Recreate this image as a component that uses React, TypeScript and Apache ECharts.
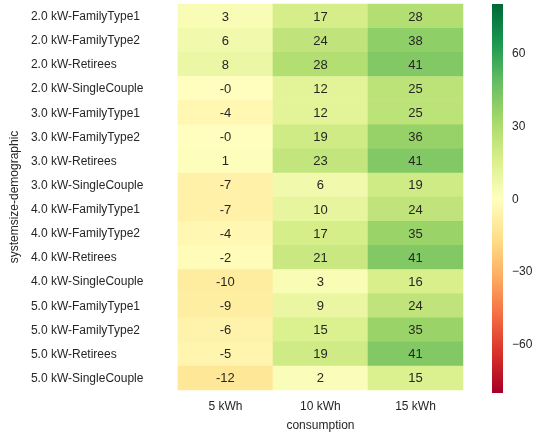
import React, { useEffect, useRef } from "react";
import * as echarts from "echarts";

const rowLabels = [
  "2.0 kW-FamilyType1",
  "2.0 kW-FamilyType2",
  "2.0 kW-Retirees",
  "2.0 kW-SingleCouple",
  "3.0 kW-FamilyType1",
  "3.0 kW-FamilyType2",
  "3.0 kW-Retirees",
  "3.0 kW-SingleCouple",
  "4.0 kW-FamilyType1",
  "4.0 kW-FamilyType2",
  "4.0 kW-Retirees",
  "4.0 kW-SingleCouple",
  "5.0 kW-FamilyType1",
  "5.0 kW-FamilyType2",
  "5.0 kW-Retirees",
  "5.0 kW-SingleCouple",
];
const colLabels = ["5 kWh", "10 kWh", "15 kWh"];
const vals5 = [3, 6, 8, -0.3, -4, -0.3, 1, -7, -7, -4, -2, -10, -9, -6, -5, -12];
const vals10 = [17, 24, 28, 12, 12, 19, 23, 6, 10, 17, 21, 3, 9, 15, 19, 2];
const vals15 = [28, 38, 41, 25, 25, 36, 41, 19, 24, 35, 41, 16, 24, 35, 41, 15];
const colorbarTicks = [-60, -30, 0, 30, 60];
const vMin = -80;
const vMax = 80;

const RdYlGn = [
  "#a50026", "#d73027", "#f46d43", "#fdae61", "#fee08b", "#ffffbf",
  "#d9ef8b", "#a6d96a", "#66bd63", "#1a9850", "#006837",
];

const TXT = "#262626";
const FONT = "'Liberation Sans', Arial, sans-serif";

export default function App() {
  const ref = useRef<HTMLDivElement>(null);
  useEffect(() => {
    if (!ref.current) return;
    const chart = echarts.init(ref.current, undefined, { renderer: "svg" });
    const cols = [vals5, vals10, vals15];
    const data: any[] = [];
    cols.forEach((arr, ci) => {
      arr.forEach((v, ri) => data.push([ci, ri, v]));
    });
    const n = RdYlGn.length;
    // ascending offsets: top (offset 0) is green (max), bottom is red (min)
    const gradStops = RdYlGn.slice()
      .reverse()
      .map((c, i) => ({ offset: i / (n - 1), color: c }));
    chart.setOption({
      animation: false,
      textStyle: { fontFamily: FONT },
      grid: [
        { left: 176, right: 73, top: 4, bottom: 43, containLabel: false },
        { left: 492, width: 11, top: 4, bottom: 43, containLabel: false },
      ],
      xAxis: [
        {
          type: "category",
          gridIndex: 0,
          data: colLabels,
          position: "bottom",
          axisLine: { show: false },
          axisTick: { show: false },
          splitLine: { show: false },
          axisLabel: { color: TXT, fontSize: 12, margin: 10, fontFamily: FONT },
          name: "consumption",
          nameLocation: "middle",
          nameGap: 29,
          nameTextStyle: { color: TXT, fontSize: 12, fontFamily: FONT },
        },
        {
          type: "value",
          gridIndex: 1,
          min: 0,
          max: 1,
          show: false,
        },
      ],
      yAxis: [
        {
          type: "category",
          gridIndex: 0,
          data: rowLabels,
          inverse: true,
          axisLine: { show: false },
          axisTick: { show: false },
          splitLine: { show: false },
          axisLabel: {
            color: TXT,
            fontSize: 12,
            margin: 147,
            align: "left",
            fontFamily: FONT,
          },
          name: "systemsize-demographic",
          nameLocation: "middle",
          nameGap: 155,
          nameTextStyle: { color: TXT, fontSize: 12, fontFamily: FONT },
        },
        {
          type: "value",
          gridIndex: 1,
          min: vMin,
          max: vMax,
          position: "right",
          axisLine: { show: false },
          axisTick: { show: false },
          splitLine: { show: false },
          axisLabel: {
            color: TXT,
            fontSize: 12,
            margin: 9,
            fontFamily: FONT,
            customValues: colorbarTicks,
            formatter: (v: number) => (v < 0 ? "\u2212" + Math.abs(v) : String(v)),
          },
        },
      ],
      visualMap: {
        show: false,
        type: "continuous",
        min: vMin,
        max: vMax,
        seriesIndex: 0,
        dimension: 2,
        inRange: { color: RdYlGn },
      },
      series: [
        {
          type: "heatmap",
          xAxisIndex: 0,
          yAxisIndex: 0,
          data,
          itemStyle: { borderWidth: 0 },
          label: {
            show: true,
            color: TXT,
            fontSize: 13,
            fontFamily: FONT,
            formatter: (p: any) => Number(p.value[2]).toFixed(0),
          },
        },
        {
          type: "custom",
          xAxisIndex: 1,
          yAxisIndex: 1,
          data: [[0, vMin, 1, vMax]],
          silent: true,
          renderItem: (params: any, api: any) => {
            const p1 = api.coord([api.value(0), api.value(3)]);
            const p2 = api.coord([api.value(2), api.value(1)]);
            return {
              type: "rect",
              shape: { x: p1[0], y: p1[1], width: p2[0] - p1[0], height: p2[1] - p1[1] },
              style: {
                fill: new echarts.graphic.LinearGradient(0, 0, 0, 1, gradStops),
              },
            };
          },
        },
      ],
    });
    return () => chart.dispose();
  }, []);
  return (
    <div
      ref={ref}
      style={{ position: "fixed", left: 0, top: 0, width: 536, height: 436 }}
    />
  );
}
